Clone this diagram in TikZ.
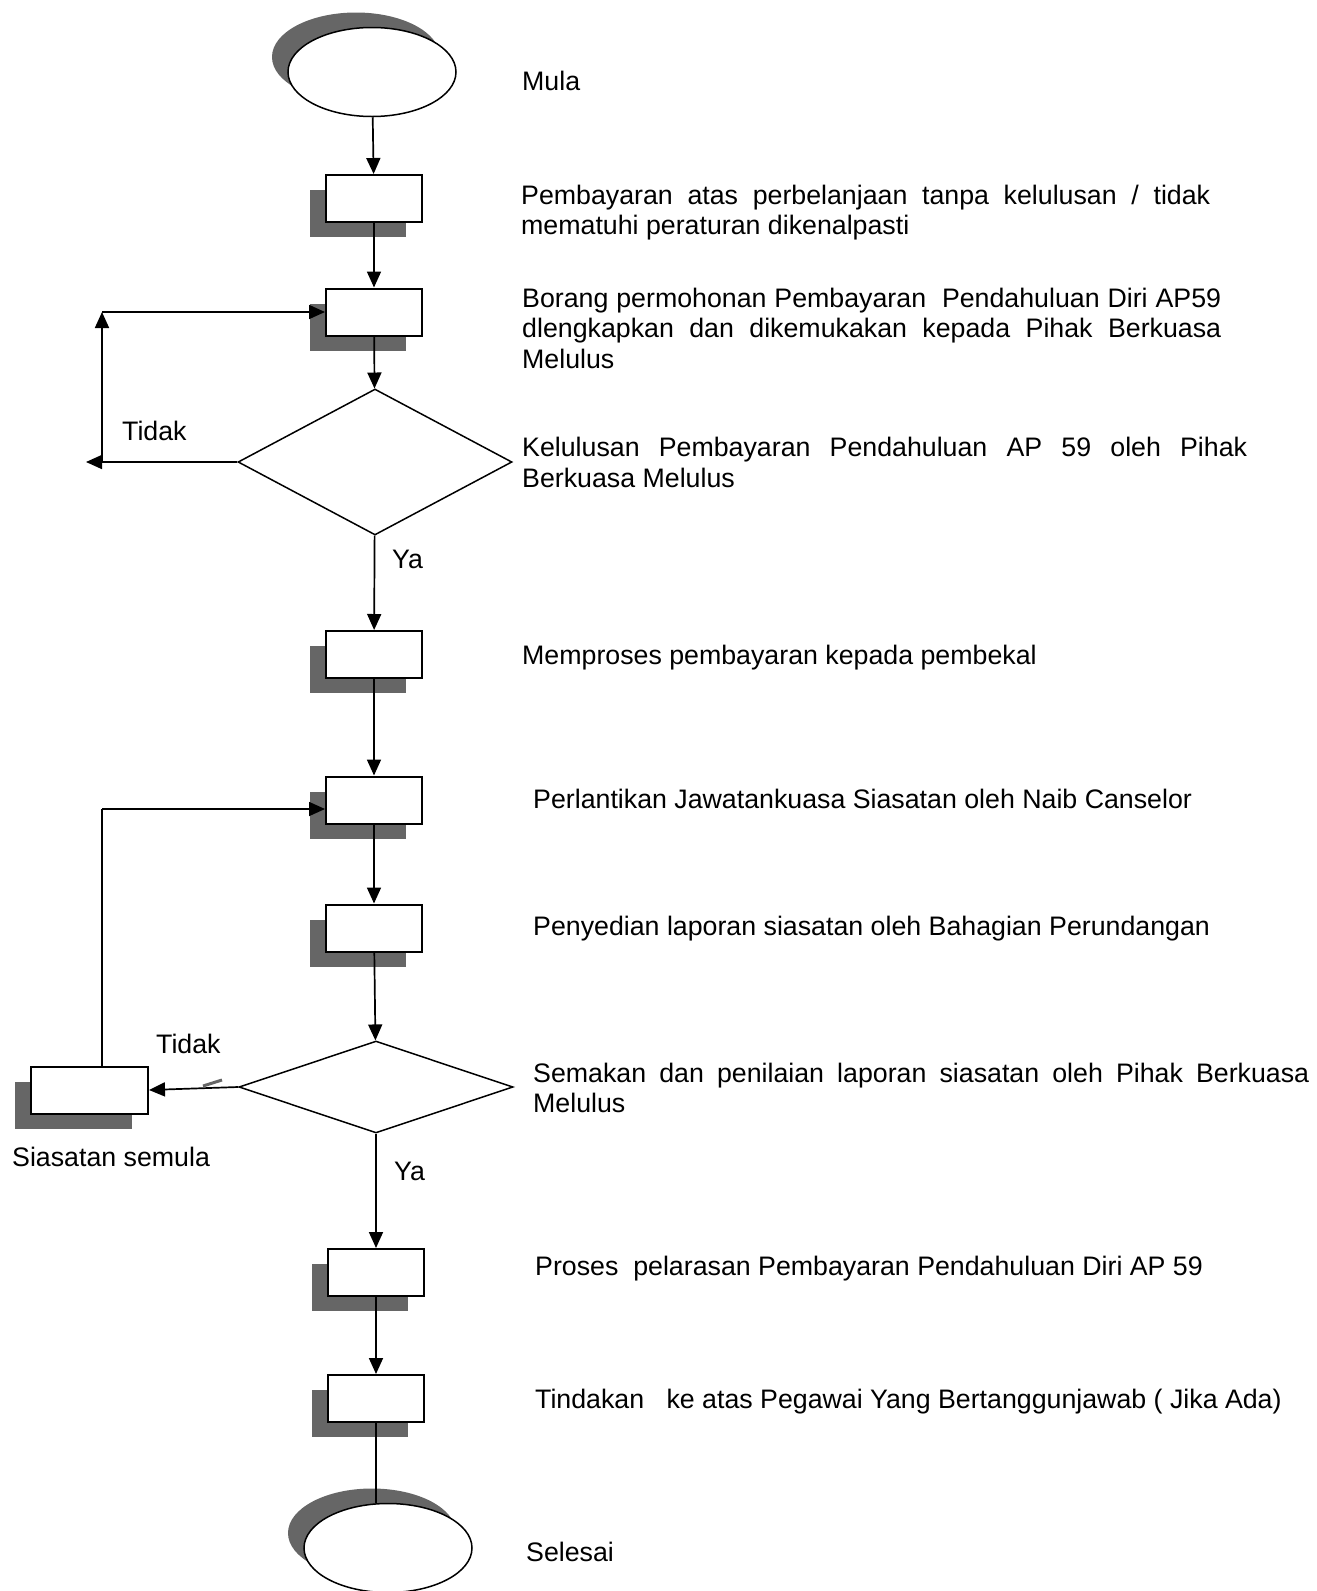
\documentclass[tikz,border=0pt]{standalone}
\usepackage{fontspec}
\setmainfont{Liberation Sans}
\usetikzlibrary{arrows.meta,shapes.geometric,shadows}

\begin{document}
\begin{tikzpicture}[x=1pt,y=-1pt,
  every node/.style={font=\fontsize{26.75}{30.5}\selectfont},
  flow/.style={line width=1.7pt,-{Triangle[length=16pt,width=14pt]}},
  link/.style={line width=1.7pt},
  procbox/.style={draw,line width=2pt,fill=white,minimum width=96pt,minimum height=47pt,inner sep=0pt,
    drop shadow={shadow xshift=-16pt,shadow yshift=-15pt,fill=black!60,opacity=1}},
  endpoint/.style={ellipse,draw,line width=1.5pt,fill=white,minimum width=168pt,minimum height=89pt,inner sep=0pt,
    drop shadow={shadow xshift=-16pt,shadow yshift=15pt,fill=black!60,opacity=1}},
  check/.style={diamond,draw,line width=1.5pt,minimum width=274pt,inner sep=0pt},
  note/.style={anchor=base west,inner sep=0pt,align=left}]
  \useasboundingbox (0,0) rectangle (1317,1591);

  % main column
  \node[endpoint] (start) at (372,72) {};
  \node[procbox] (b1) at (374,198.5) {};
  \node[procbox] (b2) at (374,312) {};
  \node[check,minimum height=146pt] (d1) at (375,462) {};
  \node[procbox] (b3) at (374,654.5) {};
  \node[procbox] (b4) at (374,800) {};
  \node[procbox] (b5) at (374,928) {};
  \node[check,minimum height=92pt] (d2) at (376,1087) {};
  \node[procbox] (b6) at (376,1272.5) {};
  \node[procbox] (b7) at (376,1398.5) {};
  \node[endpoint] (stop) at (388,1548) {};
  \node[procbox,minimum width=117pt] (redo) at (89.5,1090) {};

  \draw[flow] (start) -- (b1);
  \draw[flow] (b1) -- (b2);
  \draw[flow] (b2) -- (d1);
  \draw[flow] (d1) -- (b3);
  \draw[flow] (b3) -- (b4);
  \draw[flow] (b4) -- (b5);
  \draw[flow] (b5) -- (d2);
  \draw[flow] (d2) -- (b6);
  \draw[flow] (b6) -- (b7);
  \draw[link] (b7) -- (stop.north -| b7);

  % Tidak loops
  \coordinate (noL) at (86,462);
  \coordinate (upA) at (102,462);
  \coordinate (upB) at (102,312);
  \draw[flow] (d1.west) -- (noL);
  \draw[flow] (upA) -- (upB);
  \draw[flow] (upB) -- (b2.west);

  \coordinate (back) at (102,809);
  \draw[flow] (d2.west) -- (redo.east);
  \draw[link] (redo.north -| back) -- (back);
  \draw[flow] (back) -- (b4.west |- back);
  \draw[black!60,line width=3pt] (203,1086) -- (222,1080);

  \node[note] (tidak1) at (122,440) {Tidak};
  \node[note] (ya1) at (392,568) {Ya};
  \node[note] (tidak2) at (156,1053) {Tidak};
  \node[note] (ya2) at (394,1180) {Ya};

  % descriptions (base = last line)
  \node[note] (t1) at (522,90) {Mula};
  \node[note] (t2) at (521,234.5) {\makebox[689pt][s]{Pembayaran atas perbelanjaan tanpa kelulusan / tidak}\\mematuhi peraturan dikenalpasti};
  \node[note] (t3) at (522,368) {\makebox[699pt][s]{Borang permohonan Pembayaran \ Pendahuluan Diri AP59}\\\makebox[699pt][s]{dlengkapkan dan dikemukakan kepada Pihak Berkuasa}\\Melulus};
  \node[note] (t4) at (522,487) {\makebox[725pt][s]{Kelulusan Pembayaran Pendahuluan AP 59 oleh Pihak}\\Berkuasa Melulus};
  \node[note] (t5) at (522,664) {Memproses pembayaran kepada pembekal};
  \node[note] (t6) at (533,808) {Perlantikan Jawatankuasa Siasatan oleh Naib Canselor};
  \node[note] (t7) at (533,935) {Penyedian laporan siasatan oleh Bahagian Perundangan};
  \node[note] (t8) at (533,1112.5) {\makebox[776pt][s]{Semakan dan penilaian laporan siasatan oleh Pihak Berkuasa}\\Melulus};
  \node[note] (t9) at (12,1166) {Siasatan semula};
  \node[note] (t10) at (535,1275) {Proses \ pelarasan Pembayaran Pendahuluan Diri AP 59};
  \node[note] (t11) at (535,1408) {Tindakan \ \ ke atas Pegawai Yang Bertanggunjawab ( Jika Ada)};
  \node[note] (t12) at (526,1561) {Selesai};
\end{tikzpicture}
\end{document}
